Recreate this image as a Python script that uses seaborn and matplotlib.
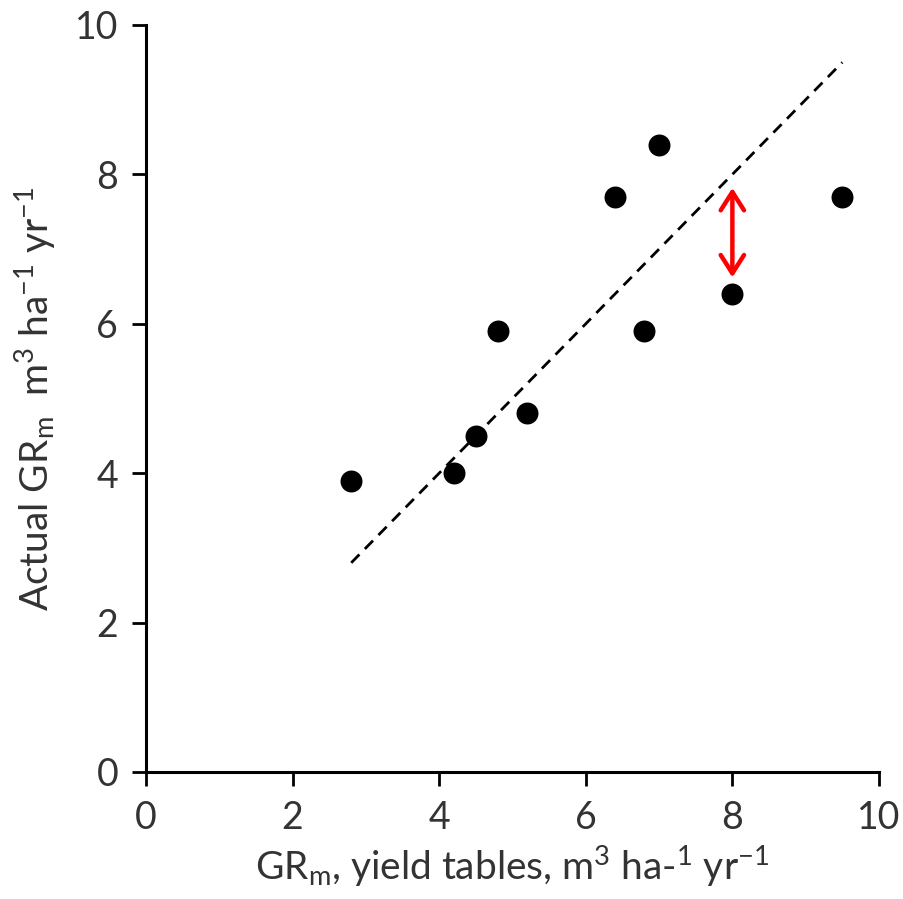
import matplotlib
matplotlib.use("Agg")
import matplotlib.pyplot as plt
import seaborn as sns
import pandas as pd

# Growth rate per stand: yield-table estimate vs. measured
gr_yield_tables = [2.8, 4.2, 4.5, 4.8, 5.2, 6.4, 6.8, 7.0, 8.0, 9.5]
gr_actual = [3.9, 4.0, 4.5, 5.9, 4.8, 7.7, 5.9, 8.4, 6.4, 7.7]

# 1:1 reference line end points
one_to_one = [2.8, 9.5]

# Gap highlighted between one stand and the 1:1 line
gap_x = 8.0
gap_from = 6.62
gap_to = 7.82

ticks = [0, 2, 4, 6, 8, 10]

sns.set_theme(style="white")
plt.rcParams["font.family"] = ["Lato", "DejaVu Sans"]
plt.rcParams["mathtext.default"] = "regular"

df = pd.DataFrame({"yield": gr_yield_tables, "actual": gr_actual})

fig = plt.figure(figsize=(9.04, 8.99), dpi=100)
ax = fig.add_axes([0.1615, 0.1413, 0.8108, 0.8309])

sns.lineplot(x=one_to_one, y=one_to_one, ax=ax, color="black",
             linestyle=(0, (4.2, 2.8)), linewidth=2.0, zorder=2)
sns.scatterplot(data=df, x="yield", y="actual", ax=ax, color="black",
                s=250, edgecolor="black", linewidth=0, zorder=3)

ax.annotate("", xy=(gap_x, gap_to), xytext=(gap_x, gap_from),
            arrowprops=dict(arrowstyle="<->,head_length=1.1,head_width=0.7",
                            color="#ff0000", lw=3.2, shrinkA=0, shrinkB=0),
            zorder=4)

ax.set_xlim(0, 10)
ax.set_ylim(0, 10)
ax.set_xticks(ticks)
ax.set_yticks(ticks)
ax.set_xticklabels([str(t) for t in ticks])
ax.set_yticklabels([str(t) for t in ticks])

for side in ("top", "right"):
    ax.spines[side].set_visible(False)
for side in ("left", "bottom"):
    ax.spines[side].set_color("black")
    ax.spines[side].set_linewidth(2.2)

ax.tick_params(axis="both", direction="out", length=10, width=2.0,
               color="black", labelsize=27, labelcolor="#333333", pad=10,
               bottom=True, left=True)

ax.set_xlabel("GR$_m$, yield tables, m$^3$ ha-$^1$ yr$^{-1}$",
              fontsize=28, color="#333333", labelpad=6)
ax.set_ylabel("Actual GR$_m$  m$^3$ ha$^{-1}$ yr$^{-1}$",
              fontsize=28, color="#333333", labelpad=12)

fig.savefig("out.png", dpi=100, facecolor="white")
